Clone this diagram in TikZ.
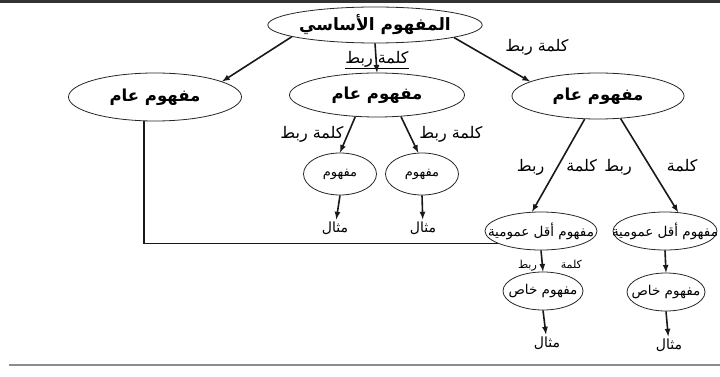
\documentclass[tikz,border=0pt]{standalone}
\usepackage{fontspec}
\usepackage{tikz}
\usetikzlibrary{arrows,shapes}
\newfontfamily\arabicfont[Script=Arabic]{DejaVu Sans}
\TeXXeTstate=1
\newcommand{\artext}[1]{{\arabicfont\beginR #1\endR}}
\newcommand{\artight}[1]{\makebox[0pt]{\artext{#1}}}

\begin{document}
\begin{tikzpicture}[x=1pt, y=-1pt, auto]
      % Define block styles
      \tikzstyle{concept} = [ellipse, draw=black!85, line width=0.8pt, inner sep=0pt, font=\bfseries\fontsize{16.5}{18}\selectfont]
      \tikzstyle{small} = [ellipse, draw=black!85, line width=0.8pt, inner sep=0pt, font=\fontsize{13}{15}\selectfont]
      \tikzstyle{linkword} = [inner sep=1pt, font=\fontsize{16}{18}\selectfont]
      \tikzstyle{example} = [inner sep=2pt, font=\fontsize{14}{16}\selectfont]
      \tikzstyle{line} = [draw=black!90, -latex, line width=1.6pt]

      \useasboundingbox (0,0) rectangle (720,377);
      \draw [black!80, line width=3pt] (0,1.5) -- (720,1.5);
      \draw [black!45, line width=2pt] (9,364.5) -- (720,364.5);

      % Place blocks
      \node [concept, minimum width=198pt, minimum height=36pt, font=\bfseries\fontsize{17}{19}\selectfont] (root) at (375,25) {\artext{المفهوم الأساسي}};
      \node [concept, minimum width=173pt, minimum height=48pt] (genL) at (155,97) {\artext{مفهوم عام}};
      \node [concept, minimum width=175pt, minimum height=44pt] (genM) at (377,95) {\artext{مفهوم عام}};
      \node [concept, minimum width=172pt, minimum height=46pt] (genR) at (598,96) {\artext{مفهوم عام}};
      \node [small, minimum width=73pt, minimum height=42pt] (subA) at (340,174) {\artext{مفهوم}};
      \node [small, minimum width=73pt, minimum height=42pt] (subB) at (422,174) {\artext{مفهوم}};
      \node [example] (exA) at (335,228) {\artext{مثال}};
      \node [example] (exB) at (423,228) {\artext{مثال}};
      \node [small, minimum width=112pt, minimum height=38pt, font=\fontsize{13.5}{15}\selectfont] (lessA) at (541,231) {\artight{مفهوم أقل عمومية}};
      \node [small, minimum width=104pt, minimum height=38pt, font=\fontsize{13.5}{15}\selectfont] (lessB) at (665,231) {\artight{مفهوم أقل عمومية}};
      \node [small, minimum width=80pt, minimum height=38pt, font=\fontsize{13.5}{15}\selectfont] (specA) at (543,291) {\artight{مفهوم خاص}};
      \node [small, minimum width=78pt, minimum height=38pt, font=\fontsize{13.5}{15}\selectfont] (specB) at (666,292) {\artight{مفهوم خاص}};
      \node [example] (exC) at (547,343) {\artext{مثال}};
      \node [example] (exD) at (669,345) {\artext{مثال}};

      % Link words
      \node [linkword] (wordM) at (377,60) {\underline{\artext{كلمة ربط}}};
      \node [linkword] (wordR) at (537,47) {\artext{كلمة ربط}};
      \node [linkword] (wordSL) at (312,134) {\artext{كلمة ربط}};
      \node [linkword] (wordSR) at (451,134) {\artext{كلمة ربط}};
      \node [linkword] (wordRL) at (557,167) {\artext{كلمة\hspace{22pt}ربط}};
      \node [linkword] (wordRR) at (651,167) {\artext{كلمة\hspace{35pt}ربط}};
      \node [linkword, font=\fontsize{11}{13}\selectfont] (wordA) at (550,266) {\artext{كلمة\hspace{24pt}ربط}};

      % Draw lines
      \path [line] (root.188) -- (genL.13);
      \path [line] (root.south) -- (genM.north);
      \path [line] (root.351) -- (genR.168);
      \path [line] (genM.225) -- (subA.north);
      \path [line] (genM.318) -- (subB.100);
      \path [line] (subA.south) -- (exA);
      \path [line] (subB.south) -- (exB);
      \path [line] (genR.240) -- (lessA.115);
      \path [line] (genR.315) -- (lessB.55);
      \path [line] (lessA.south) -- (specA.north);
      \path [line] (lessB.south) -- (specB.north);
      \path [line] (specA.south) -- (exC);
      \path [line] (specB.south) -- (exD);
      \draw [black!90, line width=1.6pt] (genL.245) |- (lessA.196);
    \end{tikzpicture}
\end{document}
